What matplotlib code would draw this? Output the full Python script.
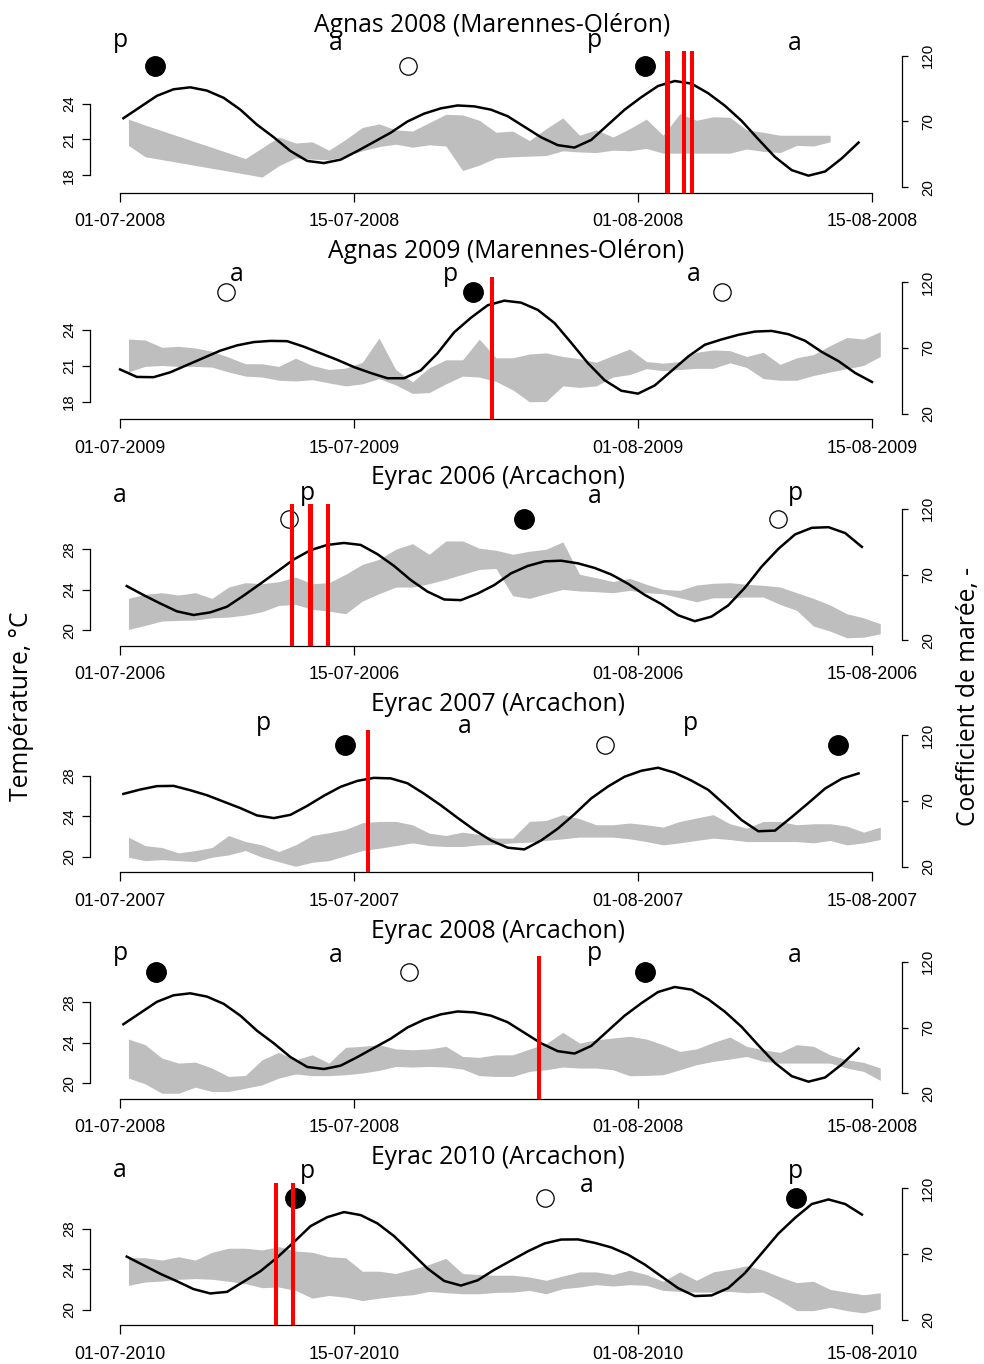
import numpy as np
import matplotlib
matplotlib.use('Agg')
import matplotlib.pyplot as plt

nan = np.nan

titles = ['Agnas 2008 (Marennes-Oléron)', 'Agnas 2009 (Marennes-Oléron)',
          'Eyrac 2006 (Arcachon)', 'Eyrac 2007 (Arcachon)',
          'Eyrac 2008 (Arcachon)', 'Eyrac 2010 (Arcachon)']
years = [2008, 2009, 2006, 2007, 2008, 2010]
tick_days = [0, 14, 31, 45]
tick_fmt = ['01-07-{}', '15-07-{}', '01-08-{}', '15-08-{}']

# daily min / max water temperature (degC), first value = 1 July noon
tmin_agnas08 = [20.5, 19.55, nan, nan, nan, nan, nan, 18.1, 17.85, 18.8, 19.45, 19.35, 19.3,
                19.6, 20.05, 20.4, 20.6, 20.35, 20.55, 20.45, 18.4, 18.85, 19.45, 19.55, 19.6,
                19.65, 20.05, 19.95, 19.9, 20.1, 20.05, 20.25, 19.85, 19.85, 19.85, 19.85, 19.85,
                20.2, 20.0, 19.9, 20.5, 20.45, 20.8]
tmax_agnas08 = [22.7, 22.2, nan, nan, nan, nan, nan, 19.4, 20.3, 21.2, 20.7, 20.8, 20.1,
                21.0, 22.0, 22.3, 21.8, 21.7, 22.4, 23.1, 23.05, 22.6, 21.6, 21.7, 20.9,
                21.9, 22.8, 21.35, 21.8, 21.2, 21.9, 22.7, 21.35, 23.15, 22.6, 22.9, 22.85,
                21.8, 21.6, 21.35, 21.35, 21.35, 21.35]
tmin_agnas09 = [20.5, 20.96, 21.04, 20.96, 20.96, 20.9, 20.49, 20.15, 20.07, 19.8, 19.74, 19.85,
                19.58, 19.33, 19.5, 19.94, 19.41, 18.7, 18.77, 19.5, 20.15, 20.07, 19.7, 19.0,
                18.0, 18.03, 19.33, 19.2, 19.33, 20.07, 20.28, 20.77, 20.6, 20.7, 20.8, 20.8,
                21.26, 20.87, 19.94, 19.8, 19.8, 20.2, 20.49, 20.77, 21.04, 21.79]
tmax_agnas09 = [23.25, 23.17, 22.56, 22.64, 22.5, 22.23, 21.73, 21.18, 21.18, 20.96, 21.65, 21.04,
                20.7, 20.82, 21.3, 23.33, 20.7, 19.66, 20.85, 21.51, 21.51, 23.25, 21.68, 21.68,
                22.0, 22.09, 21.79, 21.6, 21.31, 21.87, 22.42, 21.37, 21.23, 21.37, 22.14, 22.34,
                22.28, 21.79, 22.14, 21.13, 21.68, 21.95, 22.7, 23.38, 23.25, 23.86]
tmin_eyrac06 = [20.07, 20.46, 20.9, 20.96, 21.0, 21.22, 21.29, 21.49, 21.82, 22.44, 22.54, 22.05,
                21.88, 21.62, 22.87, 23.6, 24.26, 24.26, 24.59, 25.02, 25.52, 26.0, 26.1, 23.4,
                23.14, 23.6, 24.03, 23.87, 23.8, 23.7, 23.93, 23.7, 23.6, 23.2, 22.8, 23.2,
                23.2, 23.27, 23.27, 22.54, 21.95, 20.4, 19.9, 19.24, 19.3, 19.64]
tmax_eyrac06 = [23.14, 23.54, 23.7, 23.47, 23.7, 23.14, 24.26, 24.69, 24.59, 24.79, 25.25, 24.59,
                24.69, 25.52, 26.5, 27.0, 28.0, 28.55, 27.5, 28.82, 28.82, 28.1, 27.9, 27.5,
                27.8, 28.0, 28.72, 25.52, 25.18, 24.8, 25.12, 24.53, 24.03, 23.93, 24.46, 24.63,
                24.69, 24.53, 24.43, 24.26, 23.7, 23.14, 22.48, 21.62, 21.22, 20.63]
tmin_eyrac07 = [19.94, 19.6, 19.7, 19.6, 19.5, 19.94, 20.17, 20.6, 19.94, 19.5, 19.04, 19.44,
                19.6, 20.1, 20.6, 20.83, 21.09, 21.36, 21.09, 21.0, 21.0, 21.16, 21.2, 21.36,
                21.43, 21.6, 21.76, 21.93, 21.93, 21.93, 21.76, 21.49, 21.16, 21.36, 21.6, 21.83,
                21.69, 21.49, 21.49, 21.49, 21.49, 21.36, 21.6, 21.16, 21.36, 21.69]
tmax_eyrac07 = [21.93, 21.09, 20.9, 20.37, 20.6, 20.9, 22.09, 21.49, 21.16, 20.5, 21.16, 22.09,
                22.36, 22.69, 23.35, 23.48, 23.48, 23.15, 22.32, 22.09, 22.42, 22.19, 21.83, 21.83,
                23.48, 23.58, 24.15, 23.75, 23.15, 23.15, 23.32, 23.15, 22.92, 23.48, 23.82, 24.15,
                23.25, 22.82, 23.48, 23.48, 23.15, 23.25, 23.25, 23.02, 22.42, 22.92]
tmin_eyrac08 = [20.5, 19.93, 19.0, 19.0, 19.6, 19.17, 19.17, 19.5, 19.83, 20.5, 20.9, 20.74,
                20.74, 20.83, 21.0, 21.26, 21.65, 21.59, 21.65, 21.59, 21.39, 20.74, 20.66, 20.66,
                21.16, 21.32, 21.59, 21.49, 21.49, 21.32, 20.73, 20.76, 20.83, 21.32, 21.82, 22.15,
                22.38, 22.64, 22.15, 21.98, 21.98, 21.98, 21.98, 21.49, 21.16, 20.27]
tmax_eyrac08 = [24.36, 23.8, 22.48, 21.98, 22.08, 21.49, 20.66, 20.76, 22.31, 23.04, 22.31, 22.8,
                21.98, 23.54, 23.64, 23.8, 23.38, 23.3, 23.38, 23.64, 22.64, 22.55, 22.8, 22.8,
                23.37, 23.9, 25.02, 23.96, 24.29, 24.46, 24.63, 24.36, 23.8, 23.14, 23.38, 24.02,
                24.56, 23.64, 23.3, 23.04, 23.8, 23.64, 22.8, 22.31, 22.05, 21.49]
tmin_eyrac10 = [22.4, 22.73, 22.83, 23.0, 23.07, 23.0, 22.8, 22.57, 22.17, 22.23, 21.9, 21.13,
                21.4, 21.23, 20.9, 21.13, 21.33, 21.47, 21.8, 21.67, 21.57, 21.57, 21.7, 21.73,
                21.9, 21.57, 22.07, 22.23, 22.47, 22.33, 22.47, 22.4, 21.9, 21.8, 21.73, 21.73,
                21.8, 21.67, 21.73, 20.9, 19.9, 19.9, 20.23, 19.9, 19.67, 20.07]
tmax_eyrac10 = [25.13, 25.13, 24.9, 25.23, 24.9, 25.67, 26.07, 26.07, 25.9, 26.23, 25.8, 25.67,
                25.23, 25.13, 23.8, 23.8, 23.57, 24.0, 24.47, 25.07, 23.57, 23.47, 23.4, 23.4,
                23.23, 22.9, 23.33, 23.73, 23.73, 23.47, 23.9, 23.47, 22.8, 23.73, 22.9, 23.73,
                24.0, 24.33, 23.9, 23.23, 22.67, 22.8, 22.0, 21.73, 21.47, 21.67]

# daily tide coefficient, with the day (from 1 July) of the first value
tide_2008 = [72.5, 81, 89.5, 94.5, 96, 93.5, 88, 79, 67.5, 58, 47.5, 40, 38.4, 41, 47.5, 54.5,
             61.5, 70, 76, 80, 82.2, 81.5, 79, 74, 66, 58, 52, 50.2, 56, 67.5, 79, 88.5, 97,
             100.8, 98.8, 91.5, 82, 70.5, 56.5, 43, 33, 28.8, 32, 42, 54]
tide_2009 = [53.7, 48, 47.8, 51.5, 57, 62.5, 68, 72, 74.5, 75.4, 75.2, 71, 66, 61, 55.5, 51,
             47, 47, 53, 66, 82, 93, 102.5, 106, 104.5, 99, 89, 74, 58.5, 45.5, 37.5, 35.3,
             41.5, 52.5, 63.5, 72.5, 76.5, 80, 82.5, 83, 80.5, 75.5, 67, 60, 51, 44.2]
tide_2006 = [61.2, 54.4, 48, 42, 39.2, 41.2, 45.5, 54, 63, 72.2, 81.5, 88.5, 92.5, 94, 92.5,
             85.5, 76.5, 65.8, 57, 51, 50.5, 55.5, 62, 70.9, 76.5, 80, 80.5, 78.5, 75, 70, 63,
             54.5, 47.5, 39, 34.5, 38, 46.5, 60, 76, 89.5, 100.5, 105.5, 106, 101.5, 91]
tide_2007 = [75.4, 78.7, 81.3, 81.5, 78.2, 74.4, 69.5, 64.6, 59, 57, 59.5, 66.3, 74, 80.8, 85.3,
             87.6, 87.2, 83.5, 75.5, 66.7, 57.2, 48, 40, 34.5, 33.2, 40, 49, 60, 72, 81, 88.5,
             93, 95.3, 91.5, 85.5, 78.5, 67.2, 55.5, 47, 47.5, 57.8, 68.5, 79.5, 87, 91]
tide_2010 = [68, 61.5, 55, 49.3, 43.3, 40, 41.2, 49, 56.9, 67.3, 79, 91.2, 98, 101.9, 99.6, 93.3,
             83.6, 71.4, 59, 49.5, 46, 50, 58, 65, 72, 78, 81, 81.1, 78.5, 75, 69.5, 62, 53, 44,
             38, 38.5, 44.1, 55.5, 70.5, 85.5, 97.5, 108, 111.5, 108, 100]
tide_start = {2006: 0.4, 2007: 0.2, 2008: 0.2, 2009: 0.0, 2010: 0.4}
tide = {2006: tide_2006, 2007: tide_2007, 2008: tide_2008, 2009: tide_2009, 2010: tide_2010}

tmin = [tmin_agnas08, tmin_agnas09, tmin_eyrac06, tmin_eyrac07, tmin_eyrac08, tmin_eyrac10]
tmax = [tmax_agnas08, tmax_agnas09, tmax_eyrac06, tmax_eyrac07, tmax_eyrac08, tmax_eyrac10]

# events (days from 1 July)
red_days = [[32.73, 32.79, 33.75, 34.25], [22.27], [10.32, 11.35, 11.41, 12.42],
            [14.82], [25.06], [9.33, 10.33]]
new_moon = [[2.1, 31.4], [21.13], [24.17], [13.44, 42.94], [2.14, 31.4], [10.49, 40.44]]
full_moon = [[17.26], [6.35, 36.0], [10.13, 39.4], [29.0], [17.28], [25.46]]
# perigee / apogee labels: (day, letter, height on tide scale)
pa_labels = [
    [(0, 'p', 127), (12.9, 'a', 124.5), (28.4, 'p', 127), (40.4, 'a', 124.5)],
    [(7.0, 'a', 121), (19.8, 'p', 121), (34.35, 'a', 121)],
    [(0, 'a', 125.4), (11.2, 'p', 126.7), (28.4, 'a', 124.1), (40.4, 'p', 126.7)],
    [(8.6, 'p', 124.2), (20.6, 'a', 121.7), (34.15, 'p', 124.2)],
    [(0, 'p', 121), (12.9, 'a', 120), (28.4, 'p', 121), (40.4, 'a', 120)],
    [(0, 'a', 128.8), (11.2, 'p', 127.9), (27.96, 'a', 117.4), (40.44, 'p', 127.7)],
]
temp_lim = [(16.56, 28.44), (16.56, 28.44), (18.48, 32.52), (18.48, 32.52), (18.48, 32.52), (18.48, 32.52)]
temp_ticks = [[18, 21, 24], [18, 21, 24], [20, 24, 28], [20, 24, 28], [20, 24, 28], [20, 24, 28]]
title_x = [492, 506, 498, 498, 498, 498]

W, H = 984.0, 1364.0
fig = plt.figure(figsize=(W / 100, H / 100), dpi=100)
sans = 'Open Sans'
tickfont = 'Liberation Sans'
big = 17.7

for i in range(6):
    bot = 192.5 + 226.5 * i
    ax = fig.add_axes([90 / W, 1 - bot / H, 812 / W, 142 / H])
    ax2 = ax.twinx()

    lo = np.array(tmin[i], dtype=float)
    hi = np.array(tmax[i], dtype=float)
    d = np.arange(len(lo)) + 0.5
    ok = ~np.isnan(lo)
    ax.fill_between(d[ok], lo[ok], hi[ok], color='#bebebe', lw=0)

    y = years[i]
    tv = np.array(tide[y])
    td = np.arange(len(tv)) + tide_start[y]
    ax2.plot(td, tv, color='black', lw=1.8, solid_joinstyle='round')

    for day in new_moon[i]:
        ax2.plot([day], [112.5], 'o', ms=14, mfc='black', mec='black', clip_on=False)
    for day in full_moon[i]:
        ax2.plot([day], [112.5], 'o', ms=12.5, mfc='white', mec='black', mew=0.9, clip_on=False)
    for day, let, yy in pa_labels[i]:
        ax2.text(day, yy, let, ha='center', va='baseline', fontsize=big, family=sans, clip_on=False)
    for day in red_days[i]:
        ax2.axvline(day, color='red', lw=2.9, zorder=5)

    ax.set_xlim(-1.8, 46.8)
    ax.set_ylim(*temp_lim[i])
    ax2.set_ylim(16, 124)

    for s in ['top', 'right']:
        ax.spines[s].set_visible(False)
    for s in ['top', 'left', 'bottom']:
        ax2.spines[s].set_visible(False)
    ax.spines['left'].set_bounds(temp_ticks[i][0], temp_ticks[i][-1])
    ax.spines['bottom'].set_bounds(0, 45)
    ax2.spines['right'].set_bounds(20, 120)
    for sp in [ax.spines['left'], ax.spines['bottom'], ax2.spines['right']]:
        sp.set_linewidth(0.9)

    ax.set_xticks(tick_days)
    ax.set_xticklabels([f.format(y) for f in tick_fmt], fontsize=12.8, family=tickfont)
    ax.tick_params(axis='x', length=6.5, width=0.9, pad=8.5)
    ax.set_yticks(temp_ticks[i])
    ax.set_yticklabels([str(t) for t in temp_ticks[i]], fontsize=10.8, family=tickfont,
                       rotation=90, va='center')
    ax.tick_params(axis='y', length=6, width=0.9, pad=4)
    ax2.set_yticks([20, 70, 120])
    ax2.set_yticklabels(['20', '70', '120'], fontsize=10.8, family=tickfont, rotation=90, va='center')
    ax2.tick_params(axis='y', length=4.3, width=0.9, pad=9.5)

    fig.text(title_x[i] / W, 1 - (bot - 142 - 19) / H, titles[i], ha='center', va='baseline',
             fontsize=big, family=sans)

fig.text(22 / W, 1 - 706 / H, 'Température, °C', rotation=90, ha='center', va='center',
         fontsize=big, family=sans)
fig.text(969 / W, 1 - 696 / H, 'Coefficient de marée, -', rotation=90, ha='center', va='center',
         fontsize=big, family=sans)

fig.savefig('out.png', dpi=100)
